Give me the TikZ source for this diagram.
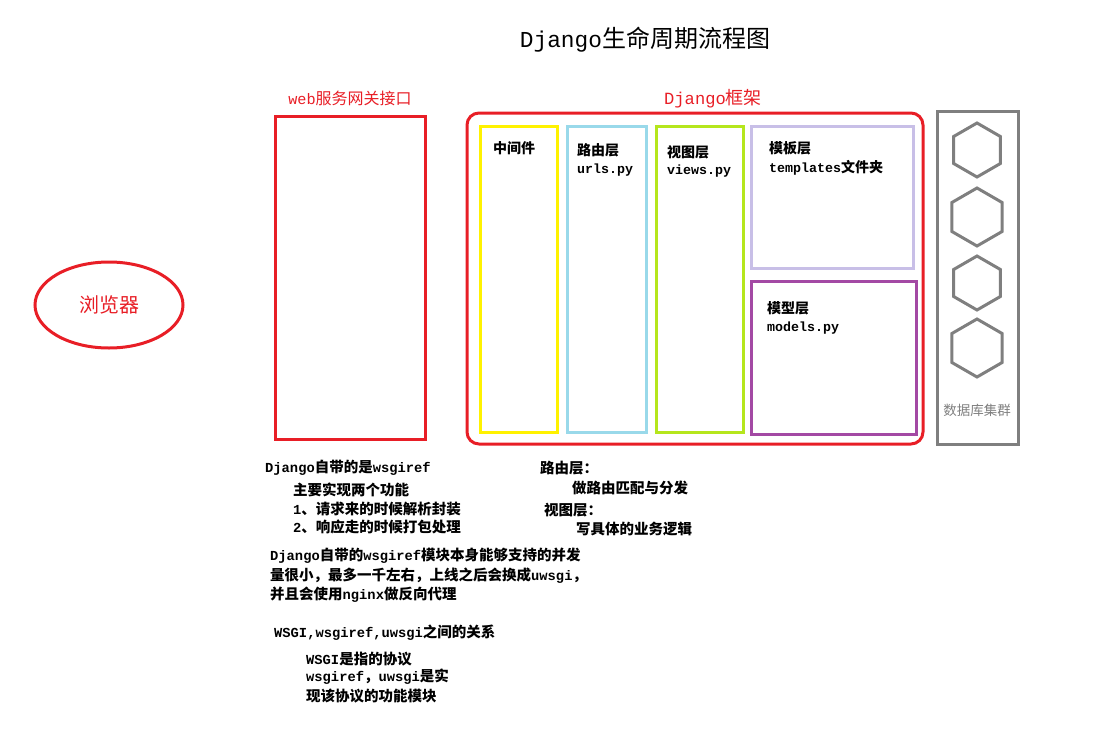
\documentclass[tikz,border=0pt]{standalone}
\usepackage{fontspec}
\setmainfont{Noto Sans CJK SC}
\newfontfamily\latmono{Liberation Mono}[Scale=0.95]
\newcommand\latn[1]{{\latmono #1}}
\usetikzlibrary{shapes.geometric}
\definecolor{framered}{RGB}{232,30,38}
\definecolor{mwyellow}{RGB}{255,242,0}
\definecolor{urlblue}{RGB}{153,217,234}
\definecolor{viewgreen}{RGB}{181,230,29}
\definecolor{tpllav}{RGB}{200,191,231}
\definecolor{modpurple}{RGB}{163,73,164}
\definecolor{dbgray}{RGB}{127,127,127}
\tikzset{
  box/.style={draw=#1, line width=3pt, inner sep=0pt, outer sep=0pt},
  hexdb/.style={regular polygon, regular polygon sides=6, shape border rotate=30,
    draw=dbgray, line width=3pt, inner sep=0pt, minimum size=#1},
  lbl/.style={anchor=west, inner sep=0pt, font=\bfseries\fontsize{14}{16}\selectfont},
  note/.style={anchor=west, inner sep=0pt, font=\bfseries\fontsize{14.5}{16}\selectfont},
  redtitle/.style={text=framered, inner sep=0pt, font=\fontsize{16}{18}\selectfont}
}
\begin{document}
\begin{tikzpicture}[x=1pt,y=-1pt]
\useasboundingbox (0,0) rectangle (1120,737);

% title
\node[inner sep=0pt, font=\fontsize{24}{27}\selectfont] (title) at (645,40) {\latn{Django}生命周期流程图};

% browser
\node[ellipse, draw=framered, line width=3pt, minimum width=148pt, minimum height=86pt,
  text=framered, font=\fontsize{20}{22}\selectfont] (browser) at (109,305) {浏览器};

% WSGI server
\node[redtitle] (wsgilabel) at (350,98) {\latn{web}服务网关接口};
\node[box=framered, minimum width=150pt, minimum height=323pt] (wsgi) at (350,277.5) {};

% Django framework
\node[redtitle, font=\fontsize{18}{20}\selectfont] (djlabel) at (713,99) {\latn{Django}框架};
\node[box=framered, rounded corners=12pt, minimum width=456pt, minimum height=331pt] (django) at (695,278.5) {};

\node[box=mwyellow, minimum width=77pt, minimum height=306pt] (mw) at (518.5,279) {};
\node[box=urlblue, minimum width=79pt, minimum height=306pt] (urls) at (606.5,279) {};
\node[box=viewgreen, minimum width=87pt, minimum height=306pt] (views) at (699.5,279) {};
\node[box=tpllav, minimum width=162pt, minimum height=142pt] (tpl) at (832,197) {};
\node[box=modpurple, minimum width=165pt, minimum height=153pt] (models) at (833.5,357.5) {};

\node[lbl] (mwt) at (493,148) {中间件};
\node[lbl] (urlt) at (577,150) {路由层};
\node[lbl] (urlf) at (577,170) {\latn{urls.py}};
\node[lbl] (viewt) at (667,152) {视图层};
\node[lbl] (viewf) at (667,171) {\latn{views.py}};
\node[lbl] (tplt) at (769,148) {模板层};
\node[lbl] (tplf) at (769,168) {\latn{templates}文件夹};
\node[lbl] (modt) at (767,308) {模型层};
\node[lbl] (modf) at (767,328) {\latn{models.py}};

% database cluster
\node[box=dbgray, minimum width=81pt, minimum height=333pt] (db) at (977.5,277.5) {};
\node[hexdb=54pt] (hex1) at (977,150) {};
\node[hexdb=58pt] (hex2) at (977,217) {};
\node[hexdb=54pt] (hex3) at (977,283) {};
\node[hexdb=58pt] (hex4) at (977,348) {};
\node[inner sep=0pt, text=dbgray, font=\fontsize{13.5}{15}\selectfont] (dbt) at (977,410) {数据库集群};

% notes
\node[note] (n1) at (265,468) {\latn{Django}自带的是\latn{wsgiref}};
\node[note] (n2) at (293,490) {主要实现两个功能};
\node[note] (n3) at (293,509) {\latn{1}、请求来的时候解析封装};
\node[note] (n4) at (293,527) {\latn{2}、响应走的时候打包处理};
\node[note] (r1) at (540,468) {路由层：};
\node[note] (r2) at (572,488) {做路由匹配与分发};
\node[note] (r3) at (544,510) {视图层：};
\node[note] (r4) at (576,529) {写具体的业务逻辑};
\node[note] (c1) at (270,556) {\latn{Django}自带的\latn{wsgiref}模块本身能够支持的并发};
\node[note] (c2) at (270,576) {量很小，最多一千左右，上线之后会换成\latn{uwsgi}，};
\node[note] (c3) at (270,595) {并且会使用\latn{nginx}做反向代理};
\node[note] (w1) at (274,633) {\latn{WSGI,wsgiref,uwsgi}之间的关系};
\node[note] (w2) at (306,659) {\latn{WSGI}是指的协议};
\node[note] (w3) at (306,677) {\latn{wsgiref}，\latn{uwsgi}是实};
\node[note] (w4) at (306,696) {现该协议的功能模块};
\end{tikzpicture}
\end{document}
